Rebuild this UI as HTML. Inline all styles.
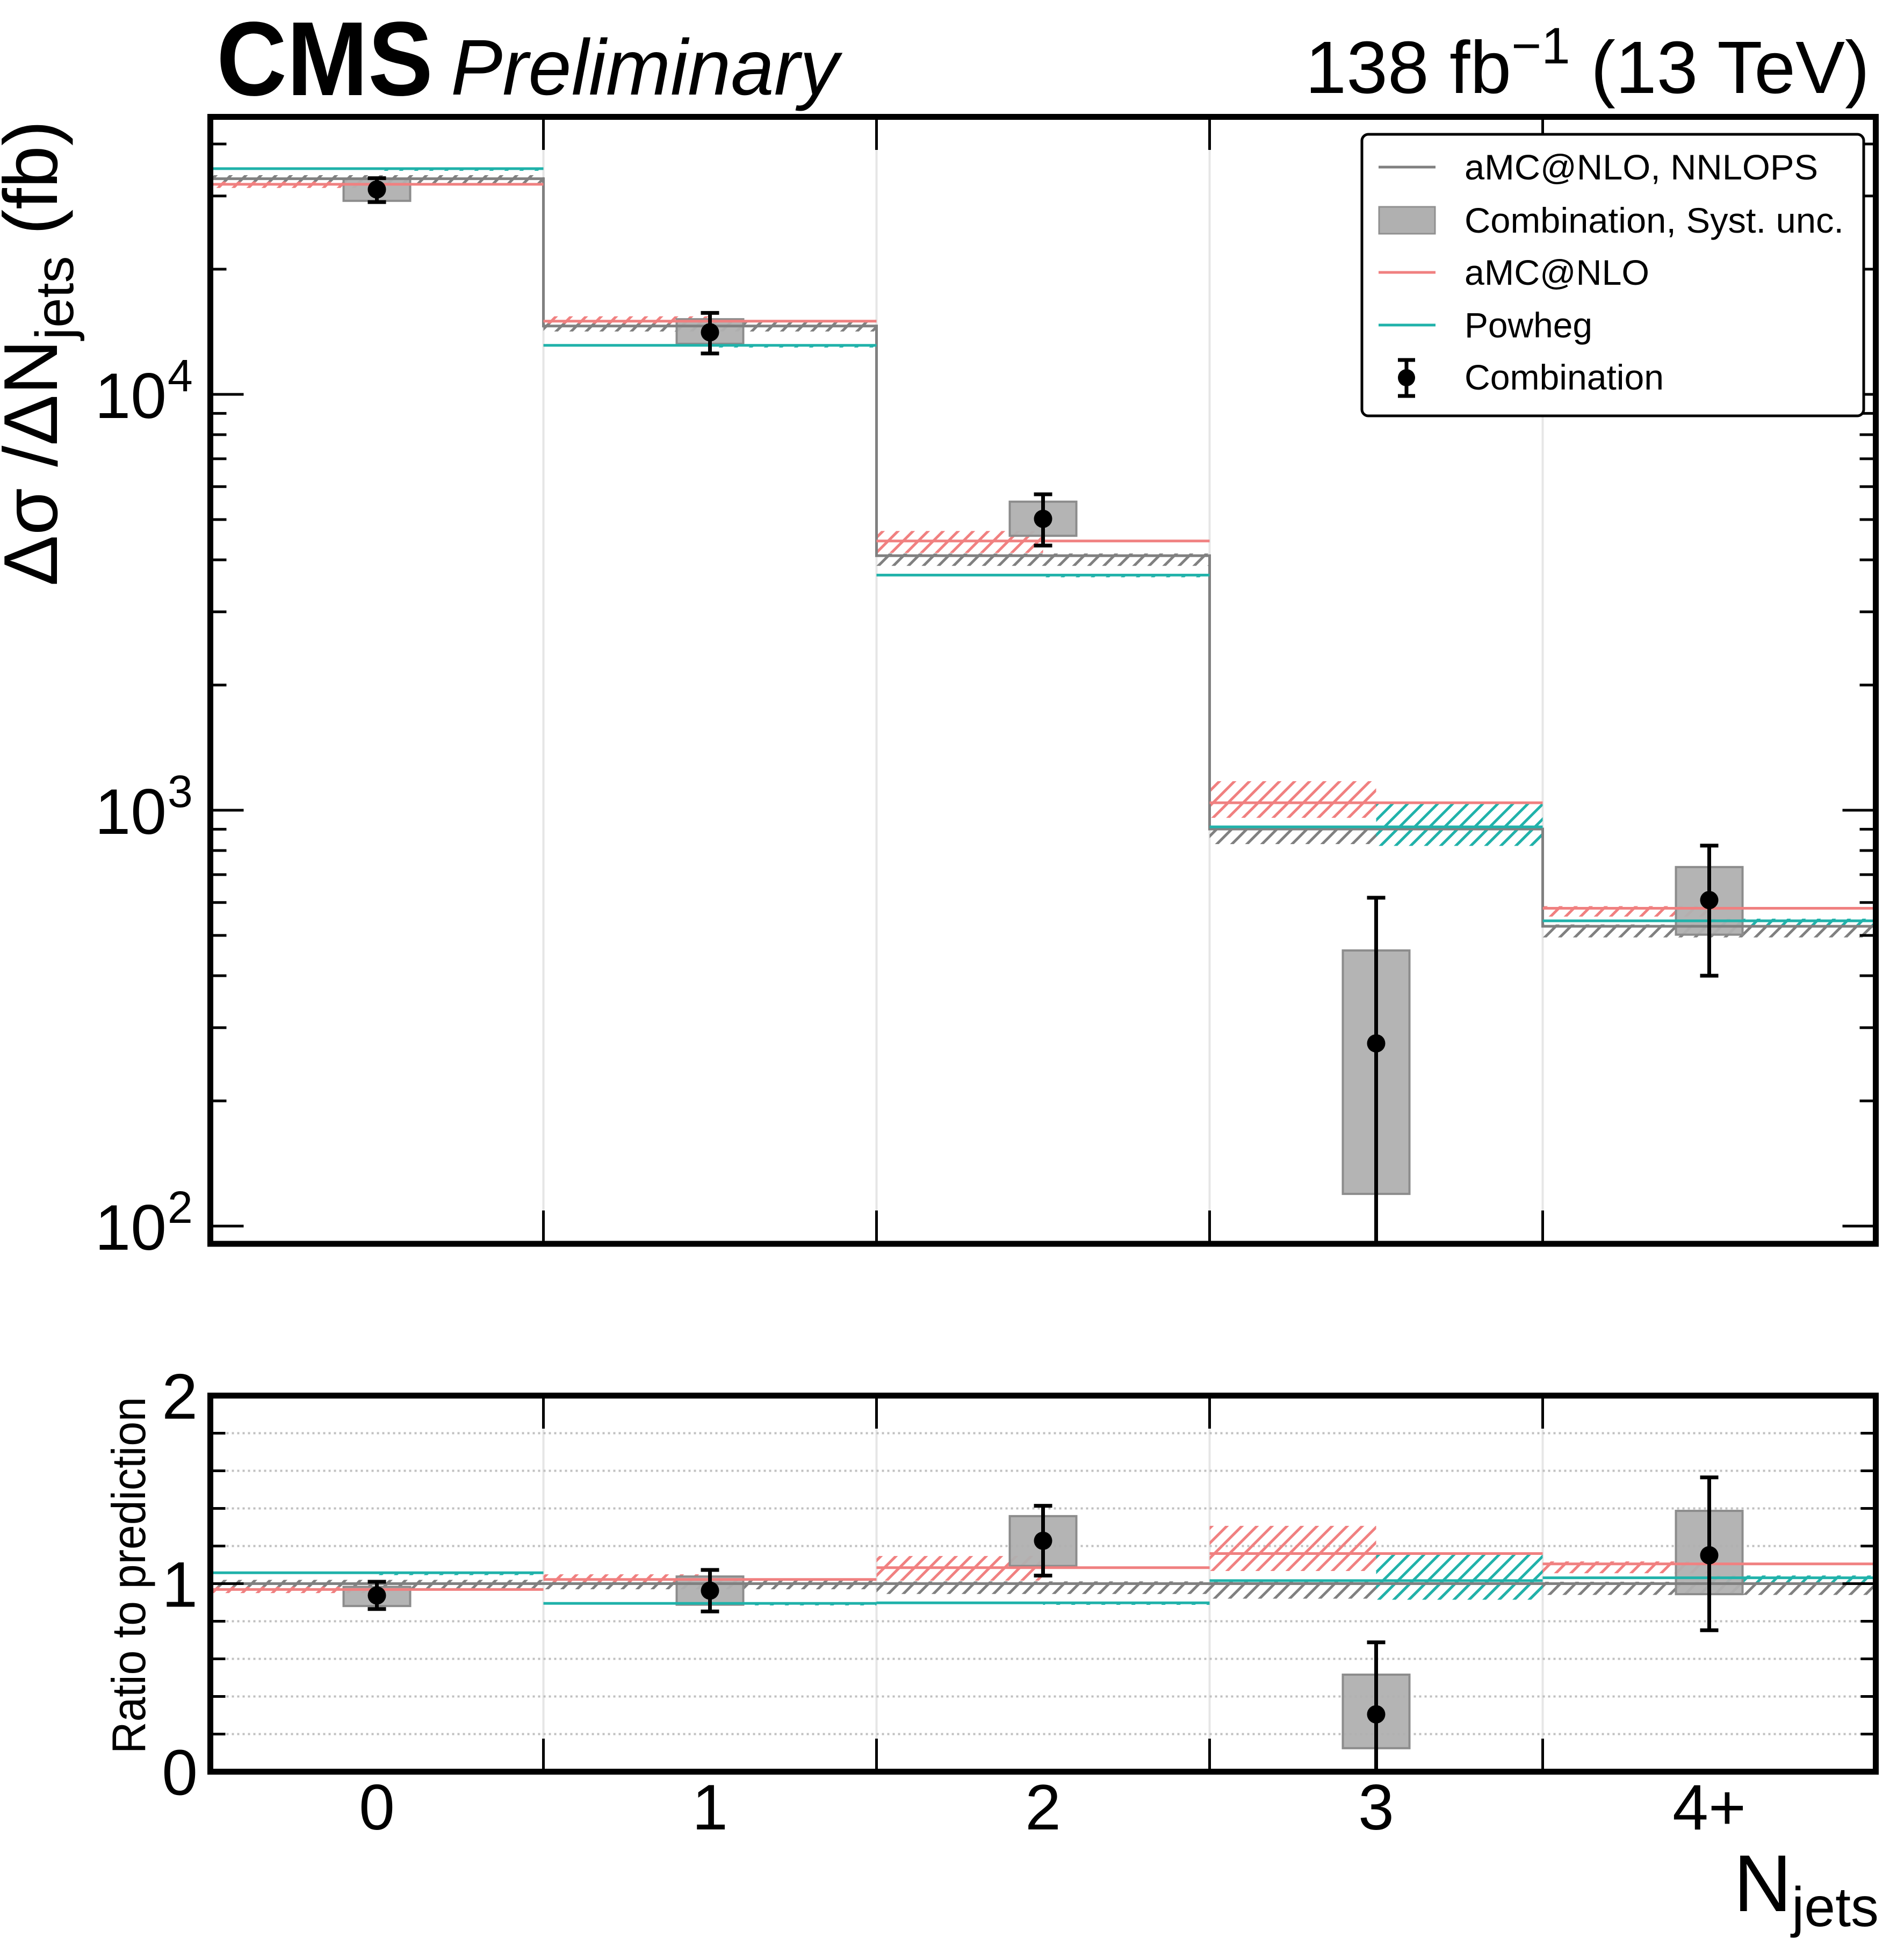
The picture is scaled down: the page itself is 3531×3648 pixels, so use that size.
<!DOCTYPE html>
<html><head><meta charset="utf-8"><style>
html,body{margin:0;padding:0;background:#fff;overflow:hidden;width:3531px;height:3648px;}
svg{display:block;font-family:"Liberation Sans",sans-serif;}
</style></head><body>
<svg id="chart" width="3531" height="3648" viewBox="0 0 3531 3648" xmlns="http://www.w3.org/2000/svg">
<defs>
<pattern id="hatch-gray" patternUnits="userSpaceOnUse" width="28" height="28"><path d="M-7,7 L7,-7 M0,28 L28,0 M21,35 L35,21" stroke="#808080" stroke-width="5"/></pattern>
<pattern id="hatch-red" patternUnits="userSpaceOnUse" width="28" height="28"><path d="M-7,7 L7,-7 M0,28 L28,0 M21,35 L35,21" stroke="#f08080" stroke-width="5"/></pattern>
<pattern id="hatch-teal" patternUnits="userSpaceOnUse" width="28" height="28"><path d="M-7,7 L7,-7 M0,28 L28,0 M21,35 L35,21" stroke="#20b2aa" stroke-width="5"/></pattern>
<clipPath id="clip-main"><rect x="391.5" y="217.5" width="3100" height="2097.5"/></clipPath>
<clipPath id="clip-ratio"><rect x="391.5" y="2597.5" width="3100" height="700"/></clipPath>
</defs>
<g id="main-g" clip-path="url(#clip-main)"></g>
<g id="ratio-g" clip-path="url(#clip-ratio)"></g>
<g id="axes-g"></g>

<text x="403" y="177" font-size="196" font-weight="bold" textLength="403" lengthAdjust="spacingAndGlyphs">CMS</text>
<text x="839" y="176" font-size="147" font-style="italic" textLength="722" lengthAdjust="spacingAndGlyphs">Preliminary</text>
<text x="3480" y="173" font-size="138" text-anchor="end">138 fb<tspan dy="-55" font-size="96">−1</tspan><tspan dy="55"> (13 TeV)</tspan></text>

<text transform="translate(106,224) rotate(-90)" font-size="142" text-anchor="end">Δσ /ΔN<tspan dy="30" font-size="100">jets</tspan><tspan dy="-30"> (fb)</tspan></text>
<text transform="translate(270,3264) rotate(-90)" font-size="88" textLength="664" lengthAdjust="spacingAndGlyphs">Ratio to prediction</text>
<text x="3497" y="3557" font-size="150" text-anchor="end">N<tspan dy="28" font-size="104">jets</tspan></text>

<g>
<rect x="2535" y="250" width="934" height="524" rx="12" fill="#fff" stroke="#000" stroke-width="5"/>
<line x1="2566" y1="311" x2="2672" y2="311" stroke="#808080" stroke-width="5"/>
<text x="2726" y="334" font-size="66" textLength="658" lengthAdjust="spacingAndGlyphs">aMC@NLO, NNLOPS</text>
<rect x="2567" y="385" width="104" height="50" fill="#b0b0b0" stroke="#909090" stroke-width="3"/>
<text x="2726" y="433" font-size="66" textLength="706" lengthAdjust="spacingAndGlyphs">Combination, Syst. unc.</text>
<line x1="2566" y1="507" x2="2672" y2="507" stroke="#f08080" stroke-width="5"/>
<text x="2726" y="530" font-size="66" textLength="344" lengthAdjust="spacingAndGlyphs">aMC@NLO</text>
<line x1="2566" y1="605" x2="2672" y2="605" stroke="#20b2aa" stroke-width="5"/>
<text x="2726" y="628" font-size="66" textLength="238" lengthAdjust="spacingAndGlyphs">Powheg</text>
<g>
<line x1="2618" y1="670" x2="2618" y2="737" stroke="#000" stroke-width="7"/>
<line x1="2602" y1="670" x2="2634" y2="670" stroke="#000" stroke-width="7"/>
<line x1="2602" y1="737" x2="2634" y2="737" stroke="#000" stroke-width="7"/>
<ellipse cx="2618" cy="703" rx="16" ry="16"/>
</g>
<text x="2726" y="725" font-size="66" textLength="371" lengthAdjust="spacingAndGlyphs">Combination</text>
</g>
</svg>
<script>
const categories = ["0","1","2","3","4+"];
const nnlops = [33000, 14600, 4094, 901, 526];
const nnlopsUp = [0.02, 0.02, 0.012, 0.01, 0.01];
const nnlopsDn = [0.03, 0.03, 0.055, 0.08, 0.06];
const amc = [32000, 15000, 4440, 1042, 581];
const amcUp = [0.015, 0.027, 0.057, 0.127, 0.012];
const amcDn = [0.02, 0.013, 0.064, 0.08, 0.045];
const powheg = [34900, 13120, 3676, 912, 542];
const powhegUp = [0.0, 0.0, 0.0, 0.135, 0.012];
const powhegDn = [0.012, 0.012, 0.012, 0.1, 0.022];
const data = [31100, 14100, 5020, 275, 608];
const dataErrUp = [33100, 15700, 5750, 616, 822];
const dataErrDn = [29000, 12540, 4330, 50, 400];
const systUp = [33000, 15160, 5520, 460, 730];
const systDn = [29200, 13230, 4570, 119.5, 502];
const ratioAmc = [0.969, 1.022, 1.085, 1.160, 1.105];
const ratioPowheg = [1.058, 0.895, 0.898, 1.016, 1.031];
const ratioData = [0.937, 0.963, 1.228, 0.305, 1.151];
const ratioErrUp = [1.010, 1.073, 1.414, 0.688, 1.565];
const ratioErrDn = [0.865, 0.852, 1.043, -0.1, 0.752];
const ratioSystUp = [0.983, 1.038, 1.359, 0.516, 1.387];
const ratioSystDn = [0.881, 0.888, 1.094, 0.125, 0.944];
const yMajorTicks = [100, 1000, 10000];
const yMajorExp = ["2","3","4"];
const ratioTickLabels = ["0","1","2"];

const NS = "http://www.w3.org/2000/svg";
const X0 = 391.5, BW = 620, NB = categories.length;
function xEdge(i){ return X0 + i*BW; }
function xCenter(i){ return X0 + (i+0.5)*BW; }
function yMain(v){ return 734 - (Math.log10(v)-4)*774; }
function yRatio(r){ return 3297.5 - r*350; }
function mk(tag, attrs, parent){
  const e = document.createElementNS(NS, tag);
  for (const k in attrs) e.setAttribute(k, attrs[k]);
  parent.appendChild(e); return e;
}
const mainG = document.getElementById('main-g');
const ratioG = document.getElementById('ratio-g');
const axesG = document.getElementById('axes-g');

[[mainG,217.5,2315],[ratioG,2597.5,3297.5]].forEach(function(p){
  for (let i=1;i<NB;i++){
    const l = mk('line',{x1:xEdge(i),x2:xEdge(i),y1:p[1],y2:p[2],stroke:'#e6e6e6','stroke-width':4},p[0]);
    
    
  }
});
[0.2,0.4,0.6,0.8,1.2,1.4,1.6,1.8].forEach(function(r){
  const l = mk('line',{x1:X0,x2:X0+3100,y1:yRatio(r),y2:yRatio(r),stroke:'#c0c0c0','stroke-width':4,'stroke-dasharray':'4 6'},ratioG);
  
  
});

function drawPanel(g, yf, vals, bottom){
  for (let i=0;i<NB;i++){
    const gc = vals.gray[i];
    let b = mk('rect',{x:xEdge(i),width:BW,y:yf(gc*(1+nnlopsUp[i])),height:yf(gc*(1-nnlopsDn[i]))-yf(gc*(1+nnlopsUp[i])),fill:'url(#hatch-gray)'},g);
    
    
    const rc = vals.red[i];
    b = mk('rect',{x:xEdge(i),width:BW/2,y:yf(rc*(1+amcUp[i])),height:yf(rc*(1-amcDn[i]))-yf(rc*(1+amcUp[i])),fill:'url(#hatch-red)'},g);
    
    
    const tc = vals.teal[i];
    b = mk('rect',{x:xEdge(i)+BW/2,width:BW/2,y:yf(tc*(1+powhegUp[i])),height:Math.max(0,yf(tc*(1-powhegDn[i]))-yf(tc*(1+powhegUp[i]))),fill:'url(#hatch-teal)'},g);
    
    
  }
  for (let i=0;i<NB;i++){
    const s = mk('rect',{x:xCenter(i)-62,width:124,y:yf(vals.sU[i]),height:yf(vals.sD[i])-yf(vals.sU[i]),fill:'#b0b0b0','fill-opacity':0.95,stroke:'#8c8c8c','stroke-width':4},g);
    
    
  }
  let d = '';
  for (let i=0;i<NB;i++){
    const y = yf(vals.gray[i]);
    d += (i===0?'M':'L')+xEdge(i)+','+y+' L'+xEdge(i+1)+','+y+' ';
  }
  const st = mk('path',{d:d,fill:'none',stroke:'#808080','stroke-width':5},g);
  
  
  for (let i=0;i<NB;i++){
    let l = mk('line',{x1:xEdge(i),x2:xEdge(i+1),y1:yf(vals.red[i]),y2:yf(vals.red[i]),stroke:'#f08080','stroke-width':5},g);
    
    
    l = mk('line',{x1:xEdge(i),x2:xEdge(i+1),y1:yf(vals.teal[i]),y2:yf(vals.teal[i]),stroke:'#20b2aa','stroke-width':5},g);
    
    
  }
  for (let i=0;i<NB;i++){
    const x = xCenter(i);
    const grp = mk('g',{},g);
    
    
    const yu = yf(vals.eU[i]);
    const rawD = vals.eD[i]>0 ? yf(vals.eD[i]) : bottom;
    const yd = Math.min(rawD, bottom);
    mk('line',{x1:x,x2:x,y1:yu,y2:yd,stroke:'#000','stroke-width':7},grp);
    mk('line',{x1:x-17,x2:x+17,y1:yu,y2:yu,stroke:'#000','stroke-width':7},grp);
    if (rawD < bottom) mk('line',{x1:x-17,x2:x+17,y1:yd,y2:yd,stroke:'#000','stroke-width':7},grp);
    mk('circle',{cx:x,cy:yf(vals.d[i]),r:17,fill:'#000'},grp);
  }
}
drawPanel(mainG, yMain, {gray:nnlops, red:amc, teal:powheg, sU:systUp, sD:systDn, d:data, eU:dataErrUp, eD:dataErrDn}, 2315);
drawPanel(ratioG, yRatio, {gray:[1,1,1,1,1], red:ratioAmc, teal:ratioPowheg, sU:ratioSystUp, sD:ratioSystDn, d:ratioData, eU:ratioErrUp, eD:ratioErrDn}, 3297.5);

function tick(x1,y1,x2,y2,name){
  const t = mk('line',{x1:x1,y1:y1,x2:x2,y2:y2,stroke:'#000','stroke-width':5},axesG);
  
  
}
const R = X0+3100;
for (let i=1;i<NB;i++){
  const x = xEdge(i);
  tick(x,217.5,x,279,'x-tick'); tick(x,2315,x,2253,'x-tick');
  tick(x,2597.5,x,2659,'x-tick'); tick(x,3297.5,x,3236,'x-tick');
}
for (let e=2;e<=4;e++){
  for (let m=1;m<10;m++){
    const v = m*Math.pow(10,e);
    const y = yMain(v);
    if (y<217.5||y>2315) continue;
    const len = m===1?62:30;
    tick(X0,y,X0+len,y,'y-tick'); tick(R,y,R-len,y,'y-tick');
  }
}
yMajorTicks.forEach(function(v,i){
  const t = mk('text',{x:310,y:yMain(v)+44,'font-size':120,'text-anchor':'end'},axesG);
  
  
  t.textContent = '10';
  const sp = mk('tspan',{x:312,dy:-50,'font-size':84,'text-anchor':'start'},t);
  sp.textContent = yMajorExp[i];
});
for (let k=0;k<=10;k++){
  const r = k*0.2, y = yRatio(r);
  const len = (k%5===0)?62:28;
  tick(X0,y,X0+len,y,'ratio-y-tick'); tick(R,y,R-len,y,'ratio-y-tick');
}
ratioTickLabels.forEach(function(s){
  const t = mk('text',{x:368,y:yRatio(parseFloat(s))+43,'font-size':120,'text-anchor':'end'},axesG);
  
  
  t.textContent = s;
});
categories.forEach(function(c,i){
  const t = mk('text',{x:xCenter(i),y:3405,'font-size':120,'text-anchor':'middle'},axesG);
  
  
  t.textContent = c;
});
const sp1 = mk('rect',{x:X0,y:217.5,width:3100,height:2097.5,fill:'none',stroke:'#000','stroke-width':11},axesG);


const sp2 = mk('rect',{x:X0,y:2597.5,width:3100,height:700,fill:'none',stroke:'#000','stroke-width':11},axesG);


</script>
</body></html>
